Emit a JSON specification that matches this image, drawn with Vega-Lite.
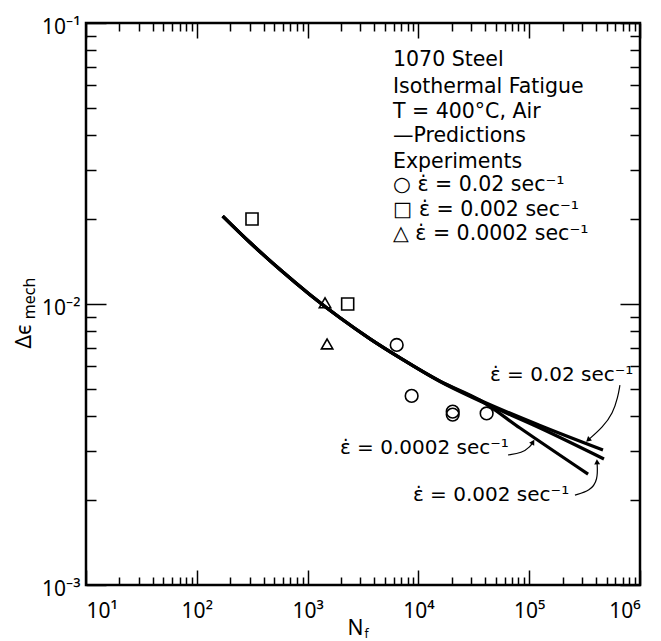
{
  "$schema": "https://vega.github.io/schema/vega-lite/v6.json",
  "width": 554,
  "height": 562,
  "autosize": {"type": "none"},
  "padding": {"left": 86, "top": 23, "right": 21, "bottom": 56},
  "background": "white",
  "config": {
    "view": {"stroke": "black", "strokeWidth": 2.5},
    "axis": {"domain": false, "grid": false, "tickColor": "black", "tickWidth": 1.5, "labelColor": "black", "titleColor": "black", "labelFont": "Noto Sans", "titleFont": "Noto Sans", "titleFontWeight": "normal"},
    "text": {"font": "DejaVu Sans", "color": "black"}
  },
  "datasets": {
    "curves": [
      {"rate": "0.02", "N": 171.3, "strain": 0.02056},
      {"rate": "0.02", "N": 302.1, "strain": 0.016555},
      {"rate": "0.02", "N": 563.6, "strain": 0.013261},
      {"rate": "0.02", "N": 1051, "strain": 0.010791},
      {"rate": "0.02", "N": 1960, "strain": 0.008931},
      {"rate": "0.02", "N": 3658, "strain": 0.007518},
      {"rate": "0.02", "N": 6823, "strain": 0.006433},
      {"rate": "0.02", "N": 15664, "strain": 0.005316},
      {"rate": "0.02", "N": 35975, "strain": 0.004546},
      {"rate": "0.02", "N": 125200, "strain": 0.003694},
      {"rate": "0.02", "N": 463400, "strain": 0.003022},
      {"rate": "0.002", "N": 171.3, "strain": 0.02056},
      {"rate": "0.002", "N": 302.1, "strain": 0.016555},
      {"rate": "0.002", "N": 563.6, "strain": 0.013261},
      {"rate": "0.002", "N": 1051, "strain": 0.010791},
      {"rate": "0.002", "N": 1960, "strain": 0.008931},
      {"rate": "0.002", "N": 3658, "strain": 0.007518},
      {"rate": "0.002", "N": 6823, "strain": 0.006433},
      {"rate": "0.002", "N": 15664, "strain": 0.005290},
      {"rate": "0.002", "N": 35975, "strain": 0.004510},
      {"rate": "0.002", "N": 125200, "strain": 0.003619},
      {"rate": "0.002", "N": 473000, "strain": 0.002808},
      {"rate": "0.0002", "N": 171.3, "strain": 0.02056},
      {"rate": "0.0002", "N": 302.1, "strain": 0.016555},
      {"rate": "0.0002", "N": 563.6, "strain": 0.013261},
      {"rate": "0.0002", "N": 1051, "strain": 0.010791},
      {"rate": "0.0002", "N": 1960, "strain": 0.008931},
      {"rate": "0.0002", "N": 3658, "strain": 0.007518},
      {"rate": "0.0002", "N": 6823, "strain": 0.006433},
      {"rate": "0.0002", "N": 15664, "strain": 0.005316},
      {"rate": "0.0002", "N": 35975, "strain": 0.004546},
      {"rate": "0.0002", "N": 82600, "strain": 0.003619},
      {"rate": "0.0002", "N": 340000, "strain": 0.00248}
    ],
    "points": [
      {"rate": "0.02", "N": 6370, "strain": 0.00715},
      {"rate": "0.02", "N": 8690, "strain": 0.00471},
      {"rate": "0.02", "N": 20400, "strain": 0.00414},
      {"rate": "0.02", "N": 20400, "strain": 0.00404},
      {"rate": "0.02", "N": 41300, "strain": 0.00408},
      {"rate": "0.002", "N": 315, "strain": 0.02006},
      {"rate": "0.002", "N": 2300, "strain": 0.0100},
      {"rate": "0.0002", "N": 1436, "strain": 0.0101},
      {"rate": "0.0002", "N": 1500, "strain": 0.00721}
    ],
    "legendText": [
      {"N": 5900, "strain": 0.07383, "text": "1070  Steel"},
      {"N": 5900, "strain": 0.05919, "text": "Isothermal Fatigue"},
      {"N": 5900, "strain": 0.04824, "text": "T = 400°C,  Air"},
      {"N": 5900, "strain": 0.03962, "text": "—Predictions"},
      {"N": 5900, "strain": 0.03201, "text": "Experiments"},
      {"N": 5900, "strain": 0.02652, "text": "○ ε̇ = 0.02  sec⁻¹"},
      {"N": 5900, "strain": 0.02161, "text": "□ ε̇ = 0.002  sec⁻¹"},
      {"N": 5900, "strain": 0.01774, "text": "△ ε̇ = 0.0002  sec⁻¹"}
    ],
    "curveLabels": [
      {"N": 44200, "strain": 0.005589, "text": "ε̇ = 0.02  sec⁻¹"},
      {"N": 1958, "strain": 0.003073, "text": "ε̇ = 0.0002  sec⁻¹"},
      {"N": 8930, "strain": 0.002089, "text": "ε̇ = 0.002  sec⁻¹"}
    ],
    "arrows": [
      {"id": "a", "i": 1, "N": 659000, "strain": 0.005148},
      {"id": "a", "i": 2, "N": 632000, "strain": 0.004667},
      {"id": "a", "i": 3, "N": 570000, "strain": 0.004093},
      {"id": "a", "i": 4, "N": 463000, "strain": 0.003648},
      {"id": "a", "i": 5, "N": 340000, "strain": 0.003281},
      {"id": "b", "i": 1, "N": 64400, "strain": 0.002902},
      {"id": "b", "i": 2, "N": 86100, "strain": 0.002951},
      {"id": "b", "i": 3, "N": 101600, "strain": 0.003097},
      {"id": "b", "i": 4, "N": 108200, "strain": 0.003228},
      {"id": "c", "i": 1, "N": 258800, "strain": 0.002089},
      {"id": "c", "i": 2, "N": 354000, "strain": 0.002160},
      {"id": "c", "i": 3, "N": 418000, "strain": 0.002366},
      {"id": "c", "i": 4, "N": 409500, "strain": 0.002742}
    ]
  },
  "resolve": {"axis": {"x": "independent", "y": "independent"}},
  "layer": [
    {
      "data": {"name": "curves"},
      "mark": {"type": "line", "color": "black", "strokeWidth": 3.2, "interpolate": "monotone"},
      "encoding": {
        "x": {"field": "N", "type": "quantitative", "scale": {"type": "log", "domain": [10, 1000000], "nice": false},
          "axis": {"orient": "bottom", "values": [10, 100, 1000, 10000, 100000, 1000000], "tickSize": -15, "labelPadding": 30, "labelFontSize": 21,
            "labelExpr": "'10' + ['¹','²','³','⁴','⁵','⁶'][round(log(datum.value)/LN10)-1]",
            "title": "N", "titleFontSize": 21, "titleX": 269, "titleY": 43, "titleBaseline": "middle", "titleAlign": "center"}},
        "y": {"field": "strain", "type": "quantitative", "scale": {"type": "log", "domain": [0.001, 0.1], "nice": false},
          "axis": {"orient": "left", "values": [0.001, 0.01, 0.1], "tickSize": -20, "labelPadding": 26, "labelFontSize": 21, "labelOffset": 4,
            "labelExpr": "'10' + ['⁻³','⁻²','⁻¹'][round(log(datum.value)/LN10)+3]",
            "title": "Δϵ", "titleFontSize": 21, "titleX": -62, "titleY": 313, "titleBaseline": "middle", "titleAlign": "center", "titleAngle": -90}},
        "detail": {"field": "rate"}
      }
    },
    {
      "data": {"name": "points"},
      "mark": {"type": "point", "filled": false, "color": "black", "strokeWidth": 1.6, "opacity": 1},
      "encoding": {
        "x": {"field": "N", "type": "quantitative", "scale": {"type": "log", "domain": [10, 1000000], "nice": false},
          "axis": {"orient": "bottom", "values": [20,30,40,50,60,70,80,90,200,300,400,500,600,700,800,900,2000,3000,4000,5000,6000,7000,8000,9000,20000,30000,40000,50000,60000,70000,80000,90000,200000,300000,400000,500000,600000,700000,800000,900000], "tickSize": -8, "labels": false, "title": null}},
        "y": {"field": "strain", "type": "quantitative", "scale": {"type": "log", "domain": [0.001, 0.1], "nice": false},
          "axis": {"orient": "left", "values": [0.002,0.003,0.004,0.005,0.006,0.007,0.008,0.009,0.02,0.03,0.04,0.05,0.06,0.07,0.08,0.09], "tickSize": -10, "labels": false, "title": null}},
        "shape": {"field": "rate", "type": "nominal", "scale": {"domain": ["0.02", "0.002", "0.0002"], "range": ["circle", "square", "triangle-up"]}, "legend": null},
        "size": {"field": "rate", "type": "nominal", "scale": {"domain": ["0.02", "0.002", "0.0002"], "range": [160, 130, 170]}, "legend": null}
      }
    },
    {
      "data": {"name": "legendText"},
      "mark": {"type": "text", "align": "left", "baseline": "middle", "fontSize": 20.5},
      "encoding": {
        "x": {"field": "N", "type": "quantitative", "scale": {"type": "log", "domain": [10, 1000000], "nice": false},
          "axis": {"orient": "top", "values": [10, 100, 1000, 10000, 100000, 1000000], "tickSize": -15, "labels": false, "title": null}},
        "y": {"field": "strain", "type": "quantitative", "scale": {"type": "log", "domain": [0.001, 0.1], "nice": false},
          "axis": {"orient": "right", "values": [0.001, 0.01, 0.1], "tickSize": -20, "labels": false, "title": null}},
        "text": {"field": "text"}
      }
    },
    {
      "data": {"name": "curveLabels"},
      "mark": {"type": "text", "align": "left", "baseline": "middle", "fontSize": 20},
      "encoding": {
        "x": {"field": "N", "type": "quantitative", "scale": {"type": "log", "domain": [10, 1000000], "nice": false},
          "axis": {"orient": "top", "values": [20,30,40,50,60,70,80,90,200,300,400,500,600,700,800,900,2000,3000,4000,5000,6000,7000,8000,9000,20000,30000,40000,50000,60000,70000,80000,90000,200000,300000,400000,500000,600000,700000,800000,900000], "tickSize": -8, "labels": false, "title": null}},
        "y": {"field": "strain", "type": "quantitative", "scale": {"type": "log", "domain": [0.001, 0.1], "nice": false},
          "axis": {"orient": "right", "values": [0.002,0.003,0.004,0.005,0.006,0.007,0.008,0.009,0.02,0.03,0.04,0.05,0.06,0.07,0.08,0.09], "tickSize": -10, "labels": false, "title": null}},
        "text": {"field": "text"}
      }
    },
    {
      "data": {"name": "arrows"},
      "mark": {"type": "line", "color": "black", "strokeWidth": 1.2, "interpolate": "basis"},
      "encoding": {
        "x": {"field": "N", "type": "quantitative", "scale": {"type": "log", "domain": [10, 1000000], "nice": false},
          "axis": {"orient": "bottom", "values": [], "ticks": false, "labels": false, "title": "f", "titleFontSize": 12, "titleX": 280, "titleY": 48, "titleBaseline": "middle", "titleAlign": "center"}},
        "y": {"field": "strain", "type": "quantitative", "scale": {"type": "log", "domain": [0.001, 0.1], "nice": false},
          "axis": {"orient": "left", "values": [], "ticks": false, "labels": false, "title": "mech", "titleFontSize": 16, "titleX": -57, "titleY": 275, "titleBaseline": "middle", "titleAlign": "center", "titleAngle": -90}},
        "detail": {"field": "id"},
        "order": {"field": "i", "type": "quantitative"}
      }
    },
    {
      "data": {"name": "arrows"},
      "transform": [{"filter": "datum.id == 'a' && datum.i == 5"}],
      "mark": {"type": "point", "shape": "triangle-up", "filled": true, "color": "black", "size": 35, "angle": 229, "opacity": 1},
      "encoding": {
        "x": {"field": "N", "type": "quantitative", "scale": {"type": "log", "domain": [10, 1000000], "nice": false}, "axis": null},
        "y": {"field": "strain", "type": "quantitative", "scale": {"type": "log", "domain": [0.001, 0.1], "nice": false}, "axis": null}
      }
    },
    {
      "data": {"name": "arrows"},
      "transform": [{"filter": "datum.id == 'b' && datum.i == 4"}],
      "mark": {"type": "point", "shape": "triangle-up", "filled": true, "color": "black", "size": 35, "angle": 31, "opacity": 1},
      "encoding": {
        "x": {"field": "N", "type": "quantitative", "scale": {"type": "log", "domain": [10, 1000000], "nice": false}, "axis": null},
        "y": {"field": "strain", "type": "quantitative", "scale": {"type": "log", "domain": [0.001, 0.1], "nice": false}, "axis": null}
      }
    },
    {
      "data": {"name": "arrows"},
      "transform": [{"filter": "datum.id == 'c' && datum.i == 4"}],
      "mark": {"type": "point", "shape": "triangle-up", "filled": true, "color": "black", "size": 35, "angle": 357, "opacity": 1},
      "encoding": {
        "x": {"field": "N", "type": "quantitative", "scale": {"type": "log", "domain": [10, 1000000], "nice": false}, "axis": null},
        "y": {"field": "strain", "type": "quantitative", "scale": {"type": "log", "domain": [0.001, 0.1], "nice": false}, "axis": null}
      }
    }
  ]
}
